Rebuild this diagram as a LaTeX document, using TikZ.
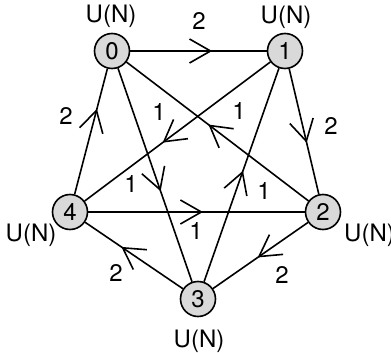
\documentclass[tikz,border=0pt]{standalone}
\usepackage{fontspec}
\setmainfont{TeX Gyre Heros}
\usetikzlibrary{arrows.meta,decorations.markings}
\begin{document}
\begin{tikzpicture}[x=1pt,y=-1pt,
  font=\fontsize{24}{28}\selectfont,
  vtx/.style={circle,draw,line width=1.6pt,fill=black!15,minimum size=35pt,inner sep=0pt},
  edge/.style={line width=1.6pt},
  midarr/.style={postaction={decorate},decoration={markings,mark=at position #1 with {\arrow{Straight Barb[length=21pt,width=24pt]}}}},
  lbl/.style={anchor=base,inner sep=0pt}]
\useasboundingbox (0,0) rectangle (391,353);
\node[vtx] (n0) at (112,51) {0};
\node[vtx] (n1) at (285,51) {1};
\node[vtx] (n2) at (323,212) {2};
\node[vtx] (n3) at (198,299) {3};
\node[vtx] (n4) at (70,212) {4};
% outer edges
\draw[edge,midarr=0.60] (n0) -- (n1);
\draw[edge,midarr=0.59] (n1) -- (n2);
\draw[edge,midarr=0.53] (n2) -- (n3);
\draw[edge,midarr=0.63] (n3) -- (n4);
\draw[edge,midarr=0.68] (n4) -- (n0);
% inner edges
\draw[edge,midarr=0.53] (n4) -- (n2);
\draw[edge,midarr=0.576] (n0) -- (n3);
\draw[edge,midarr=0.58] (n1) -- (n4);
\draw[edge,midarr=0.55] (n2) -- (n0);
\draw[edge,midarr=0.52] (n3) -- (n1);
% weights
\node[lbl] (w01) at (199,29.5) {2};
\node[lbl] (w12) at (331,134.5) {2};
\node[lbl] (w23) at (282,283.5) {2};
\node[lbl] (w34) at (116,281.5) {2};
\node[lbl] (w40) at (66,124.5) {2};
\node[lbl] (w14) at (159,120.5) {1};
\node[lbl] (w20) at (239,119.5) {1};
\node[lbl] (w03) at (131,192.5) {1};
\node[lbl] (w31) at (264,199.5) {1};
\node[lbl] (w42) at (196,239.5) {1};
% U(N) labels
\node[lbl] (u0) at (111,23) {U(N)};
\node[lbl] (u1) at (286,24) {U(N)};
\node[lbl] (u4) at (31,241) {U(N)};
\node[lbl,anchor=base west] (u2) at (344,241) {U(N)};
\node[lbl] (u3) at (199,347) {U(N)};
\end{tikzpicture}
\end{document}
